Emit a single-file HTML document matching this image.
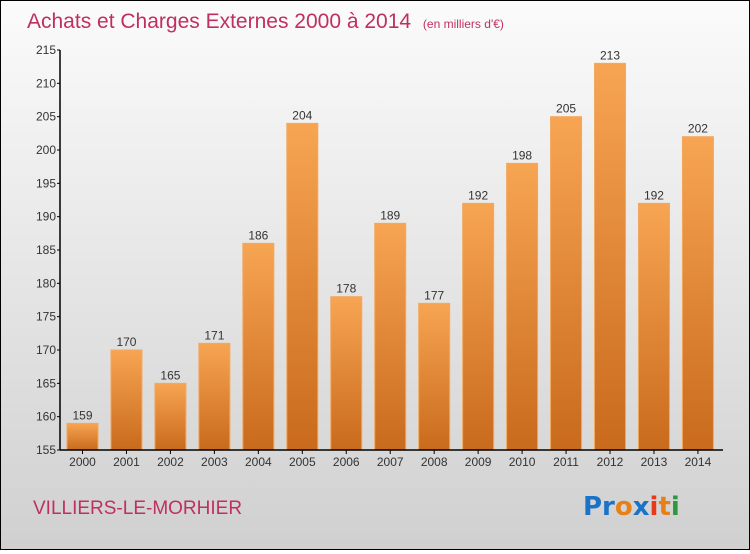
<!DOCTYPE html>
<html><head><meta charset="utf-8"><style>
body{margin:0;width:750px;height:550px;overflow:hidden;font-family:"Liberation Sans",sans-serif}
#wrap{position:absolute;left:0;top:0;width:748px;height:548px;border:1px solid #000;background:linear-gradient(#fbfbfb,#d0d0d0)}
</style></head><body>
<div id="wrap">
<svg id="chart" width="748" height="548">
<defs><linearGradient id="bg" x1="0" y1="0" x2="0" y2="1"><stop offset="0" stop-color="#f7a553"/><stop offset="1" stop-color="#c96a1c"/></linearGradient></defs>
<text x="26" y="27" font-size="21" fill="#c0305e">Achats et Charges Externes 2000 à 2014 <tspan font-size="12" dx="6">(en milliers d'€)</tspan></text>
<text x="32" y="513" font-size="19" fill="#c0305e">VILLIERS-LE-MORHIER</text>
<g font-size="26" font-weight="bold" font-family="'DejaVu Sans',sans-serif">
<text x="582" y="514"><tspan fill="#1a73c8">Pr</tspan><tspan fill="#e8801a">o</tspan><tspan fill="#1a73c8">x</tspan><tspan fill="#e83a1a">i</tspan><tspan fill="#e8801a">t</tspan><tspan fill="#2a9a3a">i</tspan></text></g>
</svg></div>
<script>
const years=["2000","2001","2002","2003","2004","2005","2006","2007","2008","2009","2010","2011","2012","2013","2014"];
const values=[159,170,165,171,186,204,178,189,177,192,198,205,213,192,202];
const yTicks=[155,160,165,170,175,180,185,190,195,200,205,210,215];
const svg=document.getElementById('chart');const NS='http://www.w3.org/2000/svg';
const yMin=155,yMax=215,plotTop=49,plotBot=449,x0=59,step=43.96,first=81.5,bw=31;
const y=v=>plotBot-(v-yMin)/(yMax-yMin)*(plotBot-plotTop);
const x=i=>first+i*step;
function mk(t,a){const e=document.createElementNS(NS,t);for(const k in a)e.setAttribute(k,a[k]);svg.appendChild(e);return e;}
values.forEach((v,i)=>{
 const r=mk('rect',{x:x(i)-bw/2,y:y(v),width:bw,height:plotBot-y(v),fill:'url(#bg)',stroke:'#f2a860','stroke-width':1});
 
 
 const t=mk('text',{x:x(i),y:y(v)-4,'text-anchor':'middle','font-size':12,fill:'#333'});t.textContent=v;
 
 
 const l=mk('text',{x:x(i),y:plotBot+16,'text-anchor':'middle','font-size':12,fill:'#333'});l.textContent=years[i];
 
 
 mk('line',{x1:x(i),x2:x(i),y1:plotBot,y2:plotBot+4,stroke:'#000'});
});
yTicks.forEach(v=>{
 mk('line',{x1:x0-3,x2:x0,y1:y(v),y2:y(v),stroke:'#000'});
 const t=mk('text',{x:x0-4,y:y(v)+4,'text-anchor':'end','font-size':12,fill:'#333'});t.textContent=v;
 
 
});
const ya=mk('line',{x1:x0,x2:x0,y1:plotTop,y2:plotBot,stroke:'#000','stroke-width':1.5});


const xa=mk('line',{x1:x0,x2:722,y1:plotBot,y2:plotBot,stroke:'#000','stroke-width':1.5});


</script>
</body></html>
